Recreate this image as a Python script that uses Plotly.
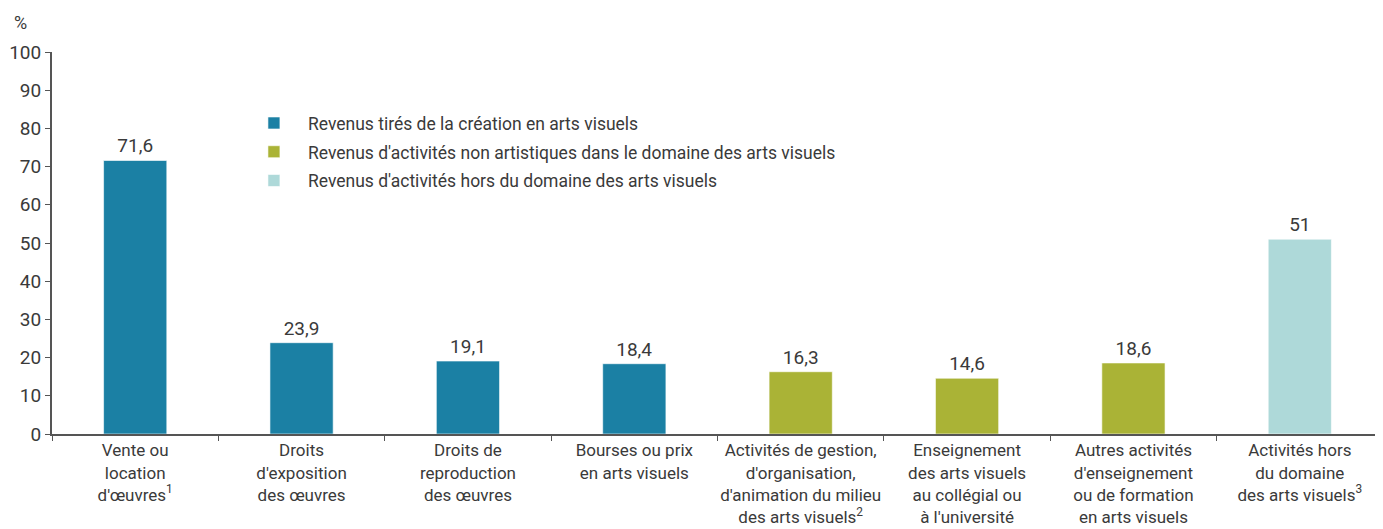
import plotly.graph_objects as go

categories = [
    "Vente ou<br>location<br>d'œuvres<sup>1</sup>",
    "Droits<br>d'exposition<br>des œuvres",
    "Droits de<br>reproduction<br>des œuvres",
    "Bourses ou prix<br>en arts visuels",
    "Activités de gestion,<br>d'organisation,<br>d'animation du milieu<br>des arts visuels<sup>2</sup>",
    "Enseignement<br>des arts visuels<br>au collégial ou<br>à l'université",
    "Autres activités<br>d'enseignement<br>ou de formation<br>en arts visuels",
    "Activités hors<br>du domaine<br>des arts visuels<sup>3</sup>",
]
values = [71.6, 23.9, 19.1, 18.4, 16.3, 14.6, 18.6, 51]
groups = [0, 0, 0, 0, 1, 1, 1, 2]
series_names = [
    "Revenus tirés de la création en arts visuels",
    "Revenus d'activités non artistiques dans le domaine des arts visuels",
    "Revenus d'activités hors du domaine des arts visuels",
]
colors = ["#1B80A4", "#AAB336", "#AED9D9"]
y_ticks = list(range(0, 101, 10))

FONT = "Roboto, Arial, sans-serif"
TXT = "#3a3a3a"

fig = go.Figure()
for g, name in enumerate(series_names):
    xs = [c for c, gg in zip(categories, groups) if gg == g]
    ys = [v for v, gg in zip(values, groups) if gg == g]
    fig.add_trace(go.Bar(
        x=xs, y=ys, name=name, legendgroup=f"g{g}",
        marker=dict(color=colors[g], line=dict(color="rgba(255,255,255,0.6)", width=1)),
        text=[f"{v:g}".replace(".", ",") for v in ys],
        textposition="outside",
        textfont=dict(size=19, color=TXT, family=FONT),
        cliponaxis=False,
    ))

fig.update_layout(
    width=1375, height=521,
    barmode="overlay",
    bargap=0.62,
    plot_bgcolor="white", paper_bgcolor="white",
    margin=dict(l=44, r=0, t=44, b=95),
    font=dict(family=FONT, size=17, color=TXT),
    showlegend=True,
    legend=dict(
        x=0.1412, y=0.861, xanchor="left", yanchor="top",
        font=dict(size=17.5, color=TXT, family=FONT),
        bgcolor="rgba(0,0,0,0)",
        traceorder="grouped",
        tracegroupgap=3,
        itemwidth=58,
    ),
    xaxis=dict(
        categoryorder="array", categoryarray=categories,
        showline=True, linecolor="#555555", linewidth=2,
        ticks="outside", tickson="boundaries", ticklen=5, tickcolor="#555555",
        tickfont=dict(size=17, color=TXT, family=FONT),
        tickangle=0, automargin=False,
        showgrid=False,
    ),
    yaxis=dict(
        range=[0, 100], tickvals=y_ticks,
        showline=True, linecolor="#555555", linewidth=2,
        ticks="outside", ticklen=5, tickcolor="#555555",
        tickfont=dict(size=19, color=TXT, family=FONT),
        automargin=False,
        showgrid=False, zeroline=False,
    ),
    annotations=[dict(
        text="%", xref="paper", yref="paper", x=-0.024, y=1.076,
        xanchor="center", yanchor="middle", showarrow=False,
        font=dict(size=18, color=TXT, family=FONT),
    )],
)

fig.write_html("out.html")
